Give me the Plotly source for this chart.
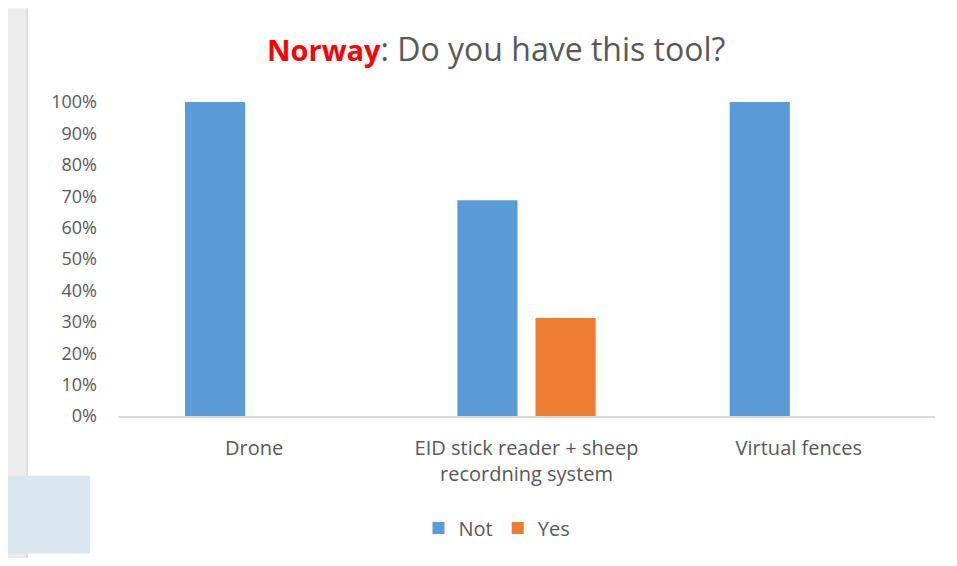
import plotly.graph_objects as go

CATEGORIES = ["Drone", "EID stick reader + sheep<br>recordning system", "Virtual fences"]
NOT_VALUES = [1.0, 0.6875, 1.0]
YES_VALUES = [0.0, 0.3125, 0.0]
Y_TICKS = [i / 10 for i in range(11)]
Y_TICK_LABELS = [f"{i * 10}%" for i in range(11)]

BLUE = "#5B9BD5"
ORANGE = "#ED7D31"
TEXT = "#595959"

# page body adds an 8px margin, so the figure is sized to fit inside the window
OFF = 8
W, H = 957 - 2 * OFF, 566 - 2 * OFF
L, T = 118 - OFF, 102 - OFF
R = W - (935 - OFF)
B = H - (417 - OFF)
PW, PH = W - L - R, H - T - B


def px_x(x):
    # screen pixel -> paper
    return (x - OFF - L) / PW


def px_y(y):
    return (H - B - (y - OFF)) / PH


fig = go.Figure()
fig.add_trace(go.Bar(x=CATEGORIES, y=NOT_VALUES, name="Not", marker=dict(color=BLUE, line=dict(width=0))))
fig.add_trace(go.Bar(x=CATEGORIES, y=YES_VALUES, name="Yes", marker=dict(color=ORANGE, line=dict(width=0))))

# screenshot chrome around the chart
shapes = [
    dict(x0=px_x(8), x1=px_x(26), y0=px_y(8), y1=px_y(566), fillcolor="#ececec"),
    dict(x0=px_x(26), x1=px_x(28), y0=px_y(8), y1=px_y(566), fillcolor="#dcdcdc"),
    dict(x0=px_x(28), x1=px_x(957), y0=px_y(563), y1=px_y(566), fillcolor="#e6e6e6"),
    dict(x0=px_x(0), x1=px_x(90), y0=px_y(477), y1=px_y(555), fillcolor="#D9E8F0"),
]
for s in shapes:
    fig.add_shape(type="rect", xref="paper", yref="paper", line=dict(width=0), layer="above", **s)

fig.add_annotation(
    text="<b><span style='color:#FF0000;font-size:29px'>Norway</span></b>: Do you have this tool?",
    xref="paper", yref="paper", x=px_x(496), y=px_y(48),
    xanchor="center", yanchor="middle", showarrow=False,
    font=dict(size=32, color=TEXT, family="Open Sans"),
)

fig.update_layout(
    width=W,
    height=H,
    margin=dict(l=L, r=R, t=T, b=B),
    paper_bgcolor="white",
    plot_bgcolor="white",
    barmode="group",
    bargap=0.426,
    bargroupgap=0.23,
    font=dict(family="Open Sans", size=20, color=TEXT),
    showlegend=True,
    legend=dict(
        orientation="h",
        x=px_x(497),
        y=px_y(528),
        xanchor="center",
        yanchor="middle",
        font=dict(size=20, color=TEXT),
        itemwidth=30,
    ),
    xaxis=dict(
        showline=True,
        linecolor="#D9D9D9",
        linewidth=2,
        showgrid=False,
        ticks="",
        ticklabelstandoff=13,
        tickfont=dict(size=20, color=TEXT),
        fixedrange=True,
    ),
    yaxis=dict(
        range=[0, 1],
        tickvals=Y_TICKS,
        ticktext=Y_TICK_LABELS,
        showgrid=False,
        zeroline=False,
        showline=False,
        ticks="",
        ticklabelstandoff=20,
        tickfont=dict(size=18, color=TEXT),
        fixedrange=True,
    ),
)

fig.write_html("out.html")
